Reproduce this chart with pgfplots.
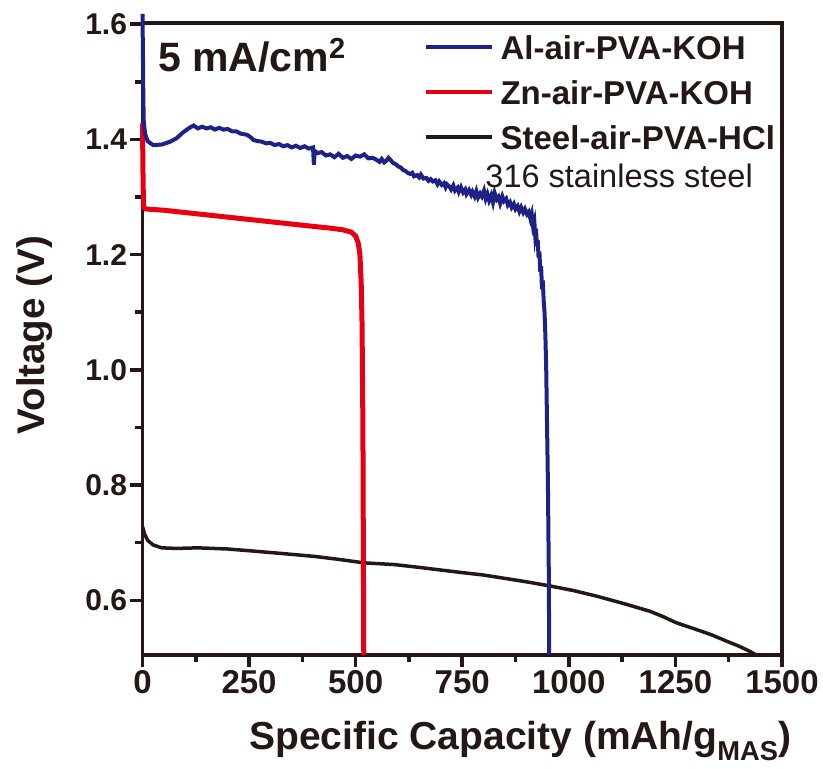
\documentclass[border=0pt]{standalone}
\usepackage{fontspec}
\setmainfont{Liberation Sans}
\usepackage{pgfplots}
\pgfplotsset{compat=1.18}
\definecolor{alblue}{RGB}{30,34,135}
\definecolor{znred}{RGB}{230,0,18}
\definecolor{stblack}{RGB}{35,24,21}
\begin{document}
\begin{tikzpicture}
\begin{axis}[
  name=ax, scale only axis, width=639.5pt, height=632pt,
  xmin=0, xmax=1500, ymin=0.505, ymax=1.602,
  xtick={0,250,500,750,1000,1250,1500},
  ytick={0.6,0.8,1.0,1.2,1.4,1.6},
  minor x tick num=1, minor y tick num=1,
  tick align=outside, tick pos=left,
  major tick length=12pt, minor tick length=7pt,
  axis line style={line width=3.5pt, stblack},
  tick style={line width=3.5pt, draw=stblack},
  clip=false,
  /pgf/number format/assume math mode=true,
  xticklabel style={font=\bfseries\fontsize{33}{33}\selectfont, text=stblack, /pgf/number format/1000 sep={}},
  yticklabel style={font=\bfseries\fontsize{30}{30}\selectfont, text=stblack, /pgf/number format/.cd, fixed, fixed zerofill, precision=1},
  xlabel={Specific Capacity (mAh/g\textsubscript{MAS})},
  xlabel style={font=\bfseries\fontsize{39}{39}\selectfont, text=stblack, at={(axis description cs:0.591,-0.15)}, anchor=base},
  ylabel={Voltage (V)},
  ylabel style={font=\bfseries\fontsize{38.5}{38.5}\selectfont, text=stblack, at={(axis description cs:-0.1525,0.506)}, anchor=base},
  legend style={draw=none, fill=none, at={(0.440,0.981)}, anchor=north west,
    inner xsep=0pt, inner ysep=0pt, row sep=21pt, column sep=7pt,
    font=\bfseries\fontsize{33}{33}\selectfont, text=stblack,
    nodes={inner sep=0pt, text height=24pt, text depth=0pt}},
  legend cell align=left,
  legend image code/.code={\draw[#1] (0pt,0pt) -- (66pt,0pt);},
]
\addlegendimage{alblue, line width=3.5pt}
\addlegendentry{Al-air-PVA-KOH}
\addlegendimage{znred, line width=3.5pt}
\addlegendentry{Zn-air-PVA-KOH}
\addlegendimage{stblack, line width=3.5pt}
\addlegendentry{Steel-air-PVA-HCl}

% Steel-air
\addplot[stblack, line width=3.5pt, forget plot] coordinates {
(0,0.728) (5,0.715) (12,0.704) (25,0.696) (45,0.691) (80,0.690) (130,0.691)
(200,0.689) (250,0.686) (330,0.681) (405,0.676) (460,0.671) (519,0.665)
(590,0.662) (650,0.657) (694,0.653) (750,0.648) (798,0.644) (850,0.638)
(901,0.632) (955,0.625) (1010,0.617) (1066,0.607) (1130,0.594) (1190,0.581)
(1220,0.572) (1252,0.561) (1300,0.549) (1335,0.540) (1370,0.529) (1397,0.521)
(1420,0.513) (1440,0.505)
};
% Zn-air
\addplot[znred, line width=5pt, forget plot] coordinates {
(0,1.428) (1,1.35) (2,1.30) (3,1.281) (10,1.279) (50,1.277) (100,1.273)
(150,1.269) (200,1.265) (250,1.261) (300,1.257) (350,1.253) (400,1.249)
(440,1.246) (470,1.243) (490,1.239) (500,1.232) (506,1.220) (510,1.200)
(513,1.150) (515,1.080) (517,0.900) (518,0.700) (519,0.505)
};
% Al-air
\addplot[alblue, line width=4pt, forget plot] coordinates {
(0,1.618) (1,1.55) (2,1.47) (3,1.43) (6,1.41) (12,1.397) (25,1.390) (45,1.391)
(65,1.396) (80,1.402) (95,1.412) (110,1.420) (120,1.424) (130,1.419) (140,1.422)
(150,1.419) (160,1.421) (170,1.417) (180,1.420) (190,1.417) (200,1.418)
(210,1.414) (220,1.414) (230,1.410) (245,1.408) (255,1.403) (260,1.399)
(270,1.397) (280,1.396) (290,1.393) (300,1.394) (310,1.390) (320,1.392)
(330,1.388) (340,1.390) (350,1.386) (360,1.389) (370,1.385) (380,1.388)
(390,1.384) (400,1.386) (402,1.356) (404,1.380) (410,1.376) (420,1.378)
(430,1.372) (440,1.374) (450,1.369) (460,1.375) (470,1.368) (480,1.371)
(490,1.366) (500,1.372) (510,1.370) (520,1.374) (530,1.367) (540,1.368)
(550,1.364) (556,1.361) (561,1.366) (567,1.360) (572,1.363) (577,1.368)
(582,1.364) (588,1.359) (594,1.357) (600,1.353) (606,1.351) (611,1.347)
(617,1.345) (622,1.342) (628,1.340) (633,1.342) (637,1.336) (644,1.338)
(649,1.334) (653,1.339) (659,1.332) (666,1.333) (671,1.328) (676,1.331)
(681,1.327) (687,1.329) (692,1.322) (696,1.327) (702,1.321) (707,1.324)
(711,1.317) (714,1.322) (720,1.318) (724,1.313) (729,1.320) (733,1.311)
(739,1.316) (742,1.309) (747,1.317) (752,1.308) (757,1.313) (760,1.305)
(766,1.312) (771,1.304) (774,1.309) (779,1.301) (783,1.310) (787,1.299)
(792,1.306) (796,1.301) (801,1.311) (805,1.297) (809,1.305) (813,1.294)
(818,1.303) (822,1.291) (826,1.307) (831,1.296) (835,1.300) (839,1.289)
(844,1.301) (848,1.293) (853,1.297) (857,1.286) (862,1.291) (866,1.282)
(871,1.288) (875,1.279) (880,1.284) (884,1.275) (888,1.282) (893,1.273)
(897,1.279) (902,1.270) (906,1.274) (910,1.262) (913,1.270) (916,1.250)
(919,1.258) (921,1.235) (923,1.245) (925,1.215) (927,1.225) (929,1.195)
(931,1.205) (933,1.170) (935,1.180) (937,1.140) (939,1.155) (941,1.120)
(943,1.100) (945,1.060) (947,1.000) (949,0.900) (951,0.800) (953,0.650)
(954,0.505)
};
\node[anchor=base west, font=\bfseries\fontsize{41}{41}\selectfont, text=stblack, inner sep=0pt] at (rel axis cs:0.0242,0.9225) {5 mA/cm\raisebox{13pt}{\fontsize{29}{29}\selectfont 2}};
\node[anchor=base west, font=\fontsize{32.5}{32.5}\selectfont, text=stblack, inner sep=0pt] at (rel axis cs:0.536,0.7405) {316 stainless steel};
\end{axis}
\pgfresetboundingbox
\path ([shift={(-142.5pt,-114pt)}]ax.south west) rectangle ++(823pt,769pt);
\end{tikzpicture}
\end{document}
